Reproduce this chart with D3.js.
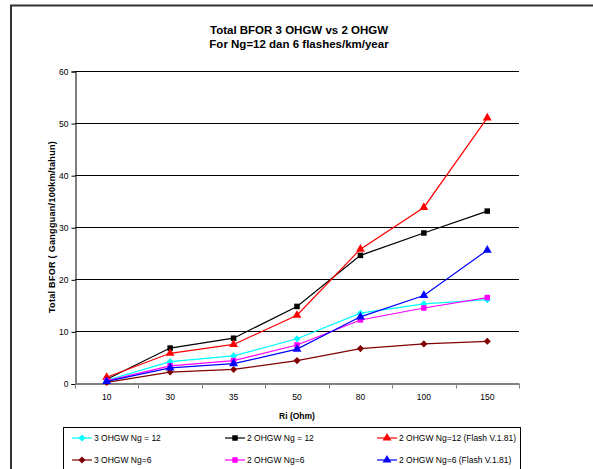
<!DOCTYPE html>
<html>
<head>
<meta charset="utf-8">
<script src="https://cdn.jsdelivr.net/npm/d3@7"></script>
<style>
  body { margin: 0; background: #fff; }
  svg { display: block; font-family: "Liberation Sans", Arial, sans-serif; }
</style>
</head>
<body>
<div id="chart"></div>
<script>
// values
var categories = ["10", "30", "35", "50", "80", "100", "150"];
var cyan12 = [0.6, 4.2, 5.3, 8.6, 13.5, 15.3, 16.1];
var black12 = [0.8, 6.8, 8.7, 14.8, 24.6, 28.9, 33.1];
var red12 = [1.2, 5.8, 7.5, 13.1, 25.8, 33.8, 51.0];
var darkred6 = [0.2, 2.2, 2.7, 4.4, 6.7, 7.6, 8.1];
var magenta6 = [0.5, 3.4, 4.4, 7.4, 12.2, 14.5, 16.5];
var blue6 = [0.4, 3.0, 3.8, 6.6, 12.8, 16.9, 25.6];
var yTicks = [0, 10, 20, 30, 40, 50, 60];

var series = [
  { name: "3 OHGW Ng = 12", values: cyan12, color: "#00ffff", symbol: d3.symbolDiamond2 || d3.symbolDiamond, size: 32 },
  { name: "2 OHGW Ng = 12", values: black12, color: "#000000", symbol: d3.symbolSquare, size: 30 },
  { name: "2 OHGW Ng=12 (Flash V.1.81)", values: red12, color: "#ff0000", symbol: d3.symbolTriangle, size: 34 },
  { name: "3 OHGW Ng=6", values: darkred6, color: "#800000", symbol: d3.symbolDiamond2 || d3.symbolDiamond, size: 32 },
  { name: "2 OHGW Ng=6", values: magenta6, color: "#ff00ff", symbol: d3.symbolSquare, size: 30 },
  { name: "2 OHGW Ng=6 (Flash V.1.81)", values: blue6, color: "#0000ff", symbol: d3.symbolTriangle, size: 34 }
];

var width = 593, height = 469;
var plot = { left: 75, right: 519, top: 71, bottom: 383.5 };

var svg = d3.select("#chart").append("svg")
  .attr("width", width)
  .attr("height", height);

svg.append("rect")
  .attr("width", width).attr("height", height)
  .attr("fill", "#fff");

// outer chart border (runs off the right and bottom edge)
svg.append("rect")
  .attr("x", 11).attr("y", 5.5)
  .attr("width", 620).attr("height", 520)
  .attr("fill", "none")
  .attr("stroke", "#333")
  .attr("stroke-width", 2);

var x = d3.scaleBand()
  .domain(categories)
  .range([plot.left, plot.right]);

var y = d3.scaleLinear()
  .domain([0, 60])
  .range([plot.bottom, plot.top]);

function cx(c) {
  return x(c) + x.bandwidth() / 2;
}

// title
svg.append("text")
  .attr("x", 299).attr("y", 34)
  .attr("text-anchor", "middle")
  .attr("font-size", "11.5px").attr("font-weight", "bold")
  .text("Total BFOR 3 OHGW vs 2 OHGW");
svg.append("text")
  .attr("x", 299).attr("y", 48)
  .attr("text-anchor", "middle")
  .attr("font-size", "11.5px").attr("font-weight", "bold")
  .text("For Ng=12 dan 6 flashes/km/year");

// gridlines
svg.append("g").selectAll("line")
  .data(yTicks.filter(function(d) { return d > 0; }))
  .enter().append("line")
  .attr("x1", plot.left).attr("x2", plot.right)
  .attr("y1", function(d) { return Math.round(y(d)) + 0.5; })
  .attr("y2", function(d) { return Math.round(y(d)) + 0.5; })
  .attr("stroke", "#000")
  .attr("stroke-width", 1);

// y axis
var yAxis = svg.append("g")
  .attr("transform", "translate(" + (plot.left + 0.5) + ",0.5)")
  .call(d3.axisLeft(y).tickValues(yTicks).tickSize(4).tickPadding(3));
yAxis.select(".domain").attr("stroke", "#000");
yAxis.selectAll("text")
  .attr("font-size", "8.5px")
  .attr("fill", "#000")
  .attr("font-family", "'Liberation Sans', Arial, sans-serif");

// x axis: gray base line, ticks at category boundaries
var bounds = categories.map(function(c) { return x(c); }).concat([plot.right]);
svg.append("line")
  .attr("x1", plot.left).attr("x2", plot.right)
  .attr("y1", plot.bottom + 0.5).attr("y2", plot.bottom + 0.5)
  .attr("stroke", "#808080")
  .attr("stroke-width", 2);
svg.append("g").selectAll("line")
  .data(bounds)
  .enter().append("line")
  .attr("x1", function(d) { return Math.round(d) + 0.5; })
  .attr("x2", function(d) { return Math.round(d) + 0.5; })
  .attr("y1", plot.bottom)
  .attr("y2", plot.bottom + 5)
  .attr("stroke", "#808080");
svg.append("g").selectAll("text")
  .data(categories)
  .enter().append("text")
  .attr("x", cx)
  .attr("y", 400)
  .attr("text-anchor", "middle")
  .attr("font-size", "8.5px")
  .text(function(d) { return d; });

// axis titles
svg.append("text")
  .attr("x", 297).attr("y", 419)
  .attr("text-anchor", "middle")
  .attr("font-size", "8.5px").attr("font-weight", "bold")
  .text("Ri (Ohm)");
svg.append("text")
  .attr("transform", "translate(55," + 227 + ") rotate(-90)")
  .attr("text-anchor", "middle")
  .attr("font-size", "9px").attr("font-weight", "bold")
  .attr("letter-spacing", "0.3px")
  .text("Total BFOR ( Gangguan/100km/tahun)");

// series lines and markers
var line = d3.line()
  .x(function(d, i) { return cx(categories[i]); })
  .y(function(d) { return y(d); });

series.forEach(function(s) {
  var g = svg.append("g");
  g.append("path")
    .datum(s.values)
    .attr("d", line)
    .attr("fill", "none")
    .attr("stroke", s.color)
    .attr("stroke-width", 1.2);
  g.selectAll("path.marker")
    .data(s.values)
    .enter().append("path")
    .attr("class", "marker")
    .attr("d", d3.symbol().type(s.symbol).size(s.size))
    .attr("transform", function(d, i) {
      return "translate(" + cx(categories[i]) + "," + y(d) + ")";
    })
    .attr("fill", s.color);
});

// legend
svg.append("rect")
  .attr("x", 63.5).attr("y", 427.5)
  .attr("width", 457).attr("height", 60)
  .attr("fill", "#fff")
  .attr("stroke", "#000");

var legendCols = [72, 225, 377];
var legendRows = [438, 460];

var legend = svg.append("g").selectAll("g")
  .data(series)
  .enter().append("g")
  .attr("transform", function(d, i) {
    return "translate(" + legendCols[i % 3] + "," + legendRows[Math.floor(i / 3)] + ")";
  });
legend.append("line")
  .attr("x1", 0).attr("x2", 20)
  .attr("stroke", function(d) { return d.color; })
  .attr("stroke-width", 1.2);
legend.append("path")
  .attr("d", function(d) { return d3.symbol().type(d.symbol).size(d.size)(); })
  .attr("transform", "translate(10,0)")
  .attr("fill", function(d) { return d.color; });
legend.append("text")
  .attr("x", 22)
  .attr("y", 3)
  .attr("font-size", "8.5px")
  .text(function(d) { return d.name; });
</script>
</body>
</html>
